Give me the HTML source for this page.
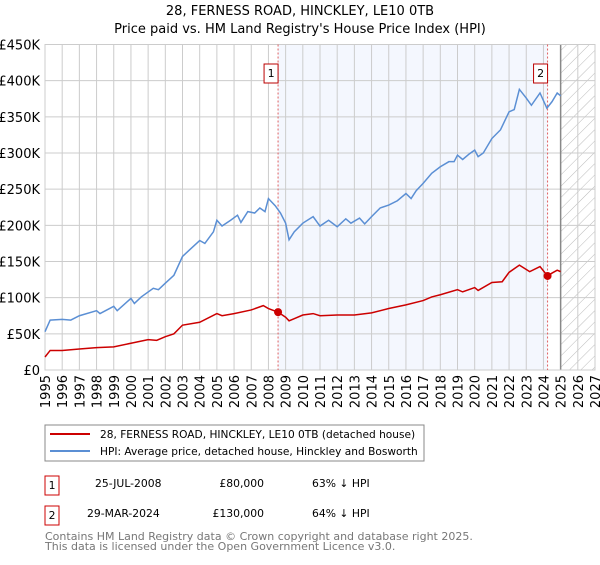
<!DOCTYPE html>
<html><head><meta charset="utf-8"><style>
body{margin:0;background:#fff;font-family:"Liberation Sans","DejaVu Sans",sans-serif;}
svg text{font-family:"DejaVu Sans","Liberation Sans",sans-serif;}
</style></head><body>
<svg id="c" width="600" height="560" xmlns="http://www.w3.org/2000/svg">
<defs><pattern id="hatch" width="8" height="8" patternUnits="userSpaceOnUse" patternTransform="rotate(45)"><line x1="0" y1="0" x2="0" y2="8" stroke="#bbb" stroke-width="1"/></pattern></defs>
<text x="300" y="15" text-anchor="middle" font-size="13">28, FERNESS ROAD, HINCKLEY, LE10 0TB</text>
<text x="300" y="33" text-anchor="middle" font-size="13">Price paid vs. HM Land Registry's House Price Index (HPI)</text>
<g id="plot"></g>
<rect x="45" y="425" width="379" height="36" fill="#fff" stroke="#888"/>
<line x1="50" y1="434" x2="90" y2="434" stroke="#cc0000" stroke-width="2"/>
<text x="100" y="438" font-size="10.6">28, FERNESS ROAD, HINCKLEY, LE10 0TB (detached house)</text>
<line x1="50" y1="451" x2="90" y2="451" stroke="#5b8fd4" stroke-width="2"/>
<text x="100" y="455" font-size="10.6">HPI: Average price, detached house, Hinckley and Bosworth</text>
<g font-size="10.8">
<rect x="45" y="476" width="14" height="19" fill="#fff" stroke="#c00"/>
<text x="52" y="489" text-anchor="middle">1</text>
<text x="95" y="487">25-JUL-2008</text><text x="264" y="487" text-anchor="end">£80,000</text><text x="312" y="487">63% ↓ HPI</text>
<rect x="45" y="506" width="14" height="19" fill="#fff" stroke="#c00"/>
<text x="52" y="519" text-anchor="middle">2</text>
<text x="87" y="517">29-MAR-2024</text><text x="264" y="517" text-anchor="end">£130,000</text><text x="312" y="517">64% ↓ HPI</text>
</g>
<text x="45" y="540" font-size="11" fill="#777">Contains HM Land Registry data © Crown copyright and database right 2025.</text>
<text x="45" y="550" font-size="11" fill="#777">This data is licensed under the Open Government Licence v3.0.</text>
</svg>
<script>
const hpiT=[1995,1995.3,1996,1996.5,1997,1998,1998.2,1999,1999.2,2000,2000.2,2000.6,2001.3,2001.6,2002,2002.5,2003,2003.5,2004,2004.3,2004.8,2005,2005.3,2005.8,2006.2,2006.4,2006.8,2007.2,2007.5,2007.8,2008,2008.4,2008.7,2009,2009.2,2009.5,2010,2010.6,2011,2011.5,2012,2012.5,2012.8,2013.3,2013.6,2014,2014.5,2015,2015.5,2016,2016.3,2016.6,2017,2017.5,2018,2018.5,2018.8,2019,2019.3,2019.7,2020,2020.2,2020.5,2021,2021.5,2022,2022.3,2022.6,2023,2023.3,2023.8,2024.2,2024.5,2024.8,2025];
const hpiV=[53,69,70,69,75,82,78,88,82,99,92,101,113,111,120,131,157,168,179,175,191,207,199,207,214,204,219,217,224,219,237,227,217,203,180,191,203,212,199,207,198,209,203,210,202,212,224,228,234,244,237,248,258,272,281,288,288,297,291,299,304,295,300,320,332,357,360,388,376,366,383,362,371,383,379];
const redT=[1995,1995.3,1996,1997,1998,1999,2000,2001,2001.5,2002,2002.5,2003,2004,2005,2005.3,2006,2007,2007.7,2008,2008.56,2009,2009.2,2009.5,2010,2010.6,2011,2012,2013,2014,2015,2016,2017,2017.5,2018,2019,2019.3,2020,2020.2,2021,2021.6,2022,2022.6,2023.2,2023.8,2024.24,2024.5,2024.8,2025];
const redV=[18,27,27,29,31,32,37,42,41,46,50,62,66,78,75,78,83,89,85,80,73,68,71,76,78,75,76,76,79,85,90,96,101,104,111,108,114,110,121,122,135,145,136,143,130,134,138,136];
const saleT=[2008.56,2024.24];
const saleV=[80,130];
const yTicks=[0,50,100,150,200,250,300,350,400,450];
const yLabels=["£0","£50K","£100K","£150K","£200K","£250K","£300K","£350K","£400K","£450K"];
const xTicks=[1995,1996,1997,1998,1999,2000,2001,2002,2003,2004,2005,2006,2007,2008,2009,2010,2011,2012,2013,2014,2015,2016,2017,2018,2019,2020,2021,2022,2023,2024,2025,2026,2027];
const X=t=>45+(t-1995)*(550/32);
const Y=v=>370-v*(325.5/450);
const NS="http://www.w3.org/2000/svg";
const g=document.getElementById('plot');
function mk(tag,at){const e=document.createElementNS(NS,tag);for(const k in at)e.setAttribute(k,at[k]);g.appendChild(e);return e;}
let e;
e=mk('rect',{x:X(saleT[0]),y:Y(450),width:X(saleT[1])-X(saleT[0]),height:Y(0)-Y(450),fill:'#f4f7fe'});


e=mk('rect',{x:X(2025),y:Y(450),width:X(2027)-X(2025),height:Y(0)-Y(450),fill:'url(#hatch)'});


yTicks.forEach((v,i)=>{
 e=mk('line',{x1:45,x2:595,y1:Y(v),y2:Y(v),stroke:'#ccc'});
 
 
 e=mk('text',{x:40,y:Y(v)+5,'text-anchor':'end','font-size':13});
 e.textContent=yLabels[i];
 
 
});
xTicks.forEach(t=>{
 e=mk('line',{x1:X(t),x2:X(t),y1:Y(450),y2:Y(0),stroke:'#ccc'});
 
 
 e=mk('text',{x:X(t)+5,y:375,'text-anchor':'end','font-size':13,transform:`rotate(-90 ${X(t)+5} 375)`});
 e.textContent=t;
 
 
});
e=mk('line',{x1:X(2025),x2:X(2025),y1:Y(450),y2:Y(0),stroke:'#888',"stroke-width":1.5});


e=mk('rect',{x:45,y:Y(450),width:550,height:Y(0)-Y(450),fill:'none',stroke:'#ccc'});


saleT.forEach((t,i)=>{
 e=mk('line',{x1:X(t),x2:X(t),y1:Y(450),y2:Y(0),stroke:'#e06060','stroke-dasharray':'2,2'});
 
 
 e=mk('rect',{x:X(t)-14,y:64,width:14,height:19,fill:'#fff',stroke:'#b00'});
 
 
 e=mk('text',{x:X(t)-7,y:77,'text-anchor':'middle','font-size':11});
 e.textContent=String(i+1);
 
 
});
e=mk('polyline',{points:hpiT.map((t,i)=>X(t)+','+Y(hpiV[i])).join(' '),fill:'none',stroke:'#5b8fd4','stroke-width':1.5});


e=mk('polyline',{points:redT.map((t,i)=>X(t)+','+Y(redV[i])).join(' '),fill:'none',stroke:'#cc0000','stroke-width':1.5});


saleT.forEach((t,i)=>{
 e=mk('circle',{cx:X(t),cy:Y(saleV[i]),r:4,fill:'#cc0000'});
 
 
});
</script>
</body></html>
